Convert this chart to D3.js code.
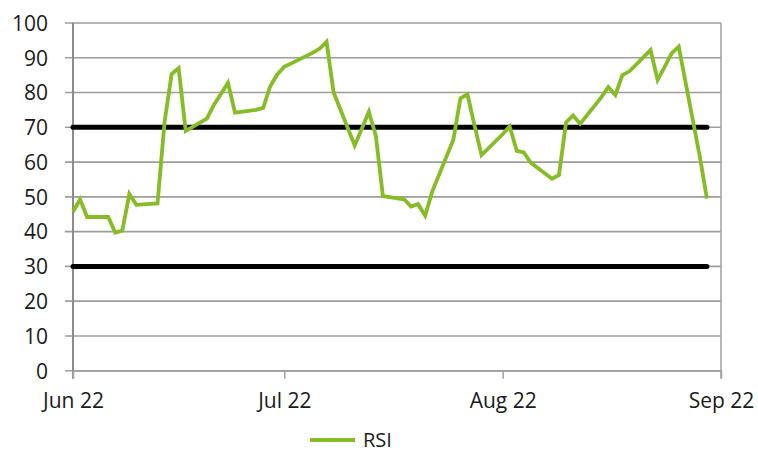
<!DOCTYPE html>
<html>
<head>
<meta charset="utf-8">
<script src="https://cdn.jsdelivr.net/npm/d3@7"></script>
<style>
  body { margin: 0; background: #fff; }
  svg text { font-family: "Open Sans", "Noto Sans", sans-serif; fill: #1a1a1a; }
</style>
</head>
<body>
<svg id="chart"></svg>
<script>
// trading days Jun - Aug 2022
var dates = [
  "2022-06-01","2022-06-02","2022-06-03","2022-06-06","2022-06-07","2022-06-08","2022-06-09","2022-06-10",
  "2022-06-13","2022-06-14","2022-06-15","2022-06-16","2022-06-17",
  "2022-06-20","2022-06-21","2022-06-22","2022-06-23","2022-06-24",
  "2022-06-27","2022-06-28","2022-06-29","2022-06-30","2022-07-01",
  "2022-07-04","2022-07-05","2022-07-06","2022-07-07","2022-07-08",
  "2022-07-11","2022-07-12","2022-07-13","2022-07-14","2022-07-15",
  "2022-07-18","2022-07-19","2022-07-20","2022-07-21","2022-07-22",
  "2022-07-25","2022-07-26","2022-07-27","2022-07-28","2022-07-29",
  "2022-08-01","2022-08-02","2022-08-03","2022-08-04","2022-08-05",
  "2022-08-08","2022-08-09","2022-08-10","2022-08-11","2022-08-12",
  "2022-08-15","2022-08-16","2022-08-17","2022-08-18","2022-08-19",
  "2022-08-22","2022-08-23","2022-08-24","2022-08-25","2022-08-26",
  "2022-08-29","2022-08-30"
];
var rsi = [
  45.7, 49.3, 44.2, 44.2, 39.7, 40.3, 50.8, 47.7,
  48.1, 71.5, 85.3, 87.0, 69.0,
  72.5, 76.4, 79.6, 82.8, 74.2,
  75.0, 75.6, 81.8, 85.2, 87.4,
  90.4, 91.4, 92.6, 94.6, 80.0,
  64.8, 69.6, 74.5, 67.5, 50.2,
  49.3, 47.2, 47.9, 44.6, 51.5,
  66.4, 78.3, 79.5, 70.6, 62.0,
  68.0, 70.3, 63.2, 62.8, 59.8,
  55.2, 56.3, 71.4, 73.4, 71.0,
  78.6, 81.6, 79.3, 85.0, 86.1,
  92.2, 83.6, 87.4, 91.3, 93.2,
  61.5, 49.5
];
var levels = [70, 30];
var yTicks = [0, 10, 20, 30, 40, 50, 60, 70, 80, 90, 100];
var xTicks = ["2022-06-01", "2022-07-01", "2022-08-01", "2022-09-01"];
var seriesName = "RSI";

var width = 758, height = 452;
var margin = {top: 23, right: 37, bottom: 81.3, left: 73};
var parse = d3.timeParse("%Y-%m-%d");
var green = "#86bc25";

var svg = d3.select("#chart").attr("width", width).attr("height", height);

var x = d3.scaleTime()
  .domain([parse(xTicks[0]), parse(xTicks[xTicks.length - 1])])
  .range([margin.left, width - margin.right]);
var y = d3.scaleLinear()
  .domain([0, 100])
  .range([height - margin.bottom, margin.top]);

// gridlines
svg.append("g")
  .selectAll("line")
  .data(yTicks)
  .enter()
  .append("line")
  .attr("x1", margin.left - 8)
  .attr("x2", width - margin.right)
  .attr("y1", function(d) { return y(d); })
  .attr("y2", function(d) { return y(d); })
  .attr("stroke", "#9d9d9d")
  .attr("stroke-width", 1.6);

// right border
svg.append("line")
  .attr("x1", width - margin.right).attr("x2", width - margin.right)
  .attr("y1", margin.top).attr("y2", y(0) + 8)
  .attr("stroke", "#a6a6a6").attr("stroke-width", 1.6);

// y axis
var yAxis = svg.append("g")
  .attr("transform", "translate(" + margin.left + ",0)")
  .call(d3.axisLeft(y).tickValues(yTicks).tickSize(8).tickSizeOuter(0).tickPadding(17));
yAxis.select(".domain").remove();
yAxis.selectAll(".tick line").remove();
yAxis.selectAll("text").attr("font-size", 21).attr("dy", "0.35em");
svg.append("line")
  .attr("x1", margin.left).attr("x2", margin.left)
  .attr("y1", margin.top).attr("y2", y(0) + 8)
  .attr("stroke", "#8c8c8c").attr("stroke-width", 2);

// x axis
var xAxis = svg.append("g")
  .attr("transform", "translate(0," + y(0) + ")")
  .call(d3.axisBottom(x)
    .tickValues(xTicks.map(parse))
    .tickFormat(d3.timeFormat("%b %y"))
    .tickSize(8).tickSizeOuter(0).tickPadding(14));
xAxis.select(".domain").attr("stroke", "#a6a6a6").attr("stroke-width", 1.6);
xAxis.selectAll(".tick line").attr("stroke", "#a6a6a6").attr("stroke-width", 1.6);
xAxis.selectAll("text").attr("font-size", 21);

// threshold lines
var first = parse(dates[0]), last = parse(dates[dates.length - 1]);
svg.append("g")
  .selectAll("line")
  .data(levels)
  .enter()
  .append("line")
  .attr("x1", x(first))
  .attr("x2", x(last))
  .attr("y1", function(d) { return y(d); })
  .attr("y2", function(d) { return y(d); })
  .attr("stroke", "#000")
  .attr("stroke-width", 5)
  .attr("stroke-linecap", "round");

// RSI line
var data = dates.map(function(d, i) { return {date: parse(d), value: rsi[i]}; });
var line = d3.line()
  .x(function(d) { return x(d.date); })
  .y(function(d) { return y(d.value); });
svg.append("path")
  .datum(data)
  .attr("d", line)
  .attr("fill", "none")
  .attr("stroke", green)
  .attr("stroke-width", 3.8)
  .attr("stroke-linejoin", "miter");

// legend
var legend = svg.append("g").attr("transform", "translate(310,440)");
legend.append("line")
  .attr("x1", 0).attr("x2", 45)
  .attr("y1", 0).attr("y2", 0)
  .attr("stroke", green).attr("stroke-width", 4);
legend.append("text")
  .attr("x", 53).attr("y", 6.5)
  .attr("font-size", 20)
  .text(seriesName);
</script>
</body>
</html>
